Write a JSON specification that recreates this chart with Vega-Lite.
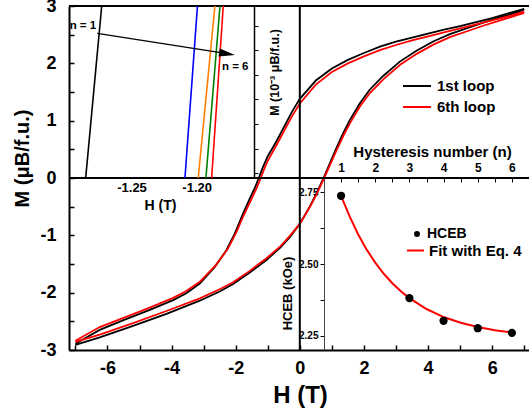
{
  "$schema": "https://vega.github.io/schema/vega-lite/v6.json",
  "width": 460,
  "height": 344,
  "autosize": {"type": "none"},
  "padding": {"left": 69, "top": 6, "right": 0, "bottom": 64},
  "background": "white",
  "config": {
    "view": {"stroke": null},
    "font": "Liberation Sans",
    "axis": {
      "grid": false,
      "tickCount": 100,
      "domainColor": "black",
      "tickColor": "black",
      "labelColor": "black",
      "titleColor": "black",
      "labelFont": "Liberation Sans",
      "titleFont": "Liberation Sans",
      "labelFontWeight": "bold",
      "titleFontWeight": "bold",
      "labelFlush": false,
      "labelOverlap": false,
      "labelBound": false
    },
    "legend": {
      "padding": 0,
      "labelFont": "Liberation Sans",
      "labelFontWeight": "bold",
      "labelColor": "black",
      "labelLimit": 300
    }
  },
  "datasets": {
    "loops": [
      {"loop": "1st loop", "branch": "down", "H": 7.0, "M": 2.95},
      {"loop": "1st loop", "branch": "down", "H": 6.5, "M": 2.87},
      {"loop": "1st loop", "branch": "down", "H": 6.0, "M": 2.79},
      {"loop": "1st loop", "branch": "down", "H": 5.5, "M": 2.72},
      {"loop": "1st loop", "branch": "down", "H": 5.0, "M": 2.65},
      {"loop": "1st loop", "branch": "down", "H": 4.5, "M": 2.59},
      {"loop": "1st loop", "branch": "down", "H": 4.0, "M": 2.52},
      {"loop": "1st loop", "branch": "down", "H": 3.5, "M": 2.45},
      {"loop": "1st loop", "branch": "down", "H": 3.0, "M": 2.38},
      {"loop": "1st loop", "branch": "down", "H": 2.5, "M": 2.29},
      {"loop": "1st loop", "branch": "down", "H": 2.0, "M": 2.18},
      {"loop": "1st loop", "branch": "down", "H": 1.5, "M": 2.06},
      {"loop": "1st loop", "branch": "down", "H": 1.0, "M": 1.91},
      {"loop": "1st loop", "branch": "down", "H": 0.5, "M": 1.70},
      {"loop": "1st loop", "branch": "down", "H": 0.0, "M": 1.38},
      {"loop": "1st loop", "branch": "down", "H": -0.25, "M": 1.15},
      {"loop": "1st loop", "branch": "down", "H": -0.5, "M": 0.88},
      {"loop": "1st loop", "branch": "down", "H": -0.75, "M": 0.62},
      {"loop": "1st loop", "branch": "down", "H": -1.0, "M": 0.38},
      {"loop": "1st loop", "branch": "down", "H": -1.15, "M": 0.19},
      {"loop": "1st loop", "branch": "down", "H": -1.28, "M": 0.0},
      {"loop": "1st loop", "branch": "down", "H": -1.4, "M": -0.17},
      {"loop": "1st loop", "branch": "down", "H": -1.58, "M": -0.38},
      {"loop": "1st loop", "branch": "down", "H": -1.8, "M": -0.66},
      {"loop": "1st loop", "branch": "down", "H": -2.03, "M": -0.97},
      {"loop": "1st loop", "branch": "down", "H": -2.29, "M": -1.26},
      {"loop": "1st loop", "branch": "down", "H": -2.65, "M": -1.55},
      {"loop": "1st loop", "branch": "down", "H": -3.12, "M": -1.84},
      {"loop": "1st loop", "branch": "down", "H": -3.54, "M": -2.01},
      {"loop": "1st loop", "branch": "down", "H": -3.95, "M": -2.13},
      {"loop": "1st loop", "branch": "down", "H": -4.68, "M": -2.30},
      {"loop": "1st loop", "branch": "down", "H": -5.5, "M": -2.48},
      {"loop": "1st loop", "branch": "down", "H": -6.24, "M": -2.65},
      {"loop": "1st loop", "branch": "down", "H": -7.0, "M": -2.89},
      {"loop": "1st loop", "branch": "up", "H": -7.0, "M": -2.91},
      {"loop": "1st loop", "branch": "up", "H": -6.24, "M": -2.78},
      {"loop": "1st loop", "branch": "up", "H": -5.2, "M": -2.58},
      {"loop": "1st loop", "branch": "up", "H": -4.16, "M": -2.37},
      {"loop": "1st loop", "branch": "up", "H": -3.12, "M": -2.14},
      {"loop": "1st loop", "branch": "up", "H": -2.5, "M": -1.98},
      {"loop": "1st loop", "branch": "up", "H": -2.08, "M": -1.85},
      {"loop": "1st loop", "branch": "up", "H": -1.56, "M": -1.65},
      {"loop": "1st loop", "branch": "up", "H": -1.04, "M": -1.43},
      {"loop": "1st loop", "branch": "up", "H": -0.6, "M": -1.21},
      {"loop": "1st loop", "branch": "up", "H": -0.31, "M": -1.03},
      {"loop": "1st loop", "branch": "up", "H": 0.0, "M": -0.80},
      {"loop": "1st loop", "branch": "up", "H": 0.31, "M": -0.50},
      {"loop": "1st loop", "branch": "up", "H": 0.52, "M": -0.27},
      {"loop": "1st loop", "branch": "up", "H": 0.74, "M": 0.0},
      {"loop": "1st loop", "branch": "up", "H": 0.94, "M": 0.26},
      {"loop": "1st loop", "branch": "up", "H": 1.14, "M": 0.52},
      {"loop": "1st loop", "branch": "up", "H": 1.35, "M": 0.78},
      {"loop": "1st loop", "branch": "up", "H": 1.56, "M": 1.01},
      {"loop": "1st loop", "branch": "up", "H": 1.87, "M": 1.30},
      {"loop": "1st loop", "branch": "up", "H": 2.18, "M": 1.54},
      {"loop": "1st loop", "branch": "up", "H": 2.6, "M": 1.78},
      {"loop": "1st loop", "branch": "up", "H": 3.12, "M": 2.03},
      {"loop": "1st loop", "branch": "up", "H": 3.64, "M": 2.22},
      {"loop": "1st loop", "branch": "up", "H": 4.16, "M": 2.38},
      {"loop": "1st loop", "branch": "up", "H": 4.68, "M": 2.51},
      {"loop": "1st loop", "branch": "up", "H": 5.2, "M": 2.61},
      {"loop": "1st loop", "branch": "up", "H": 5.72, "M": 2.71},
      {"loop": "1st loop", "branch": "up", "H": 6.24, "M": 2.80},
      {"loop": "1st loop", "branch": "up", "H": 6.76, "M": 2.89},
      {"loop": "1st loop", "branch": "up", "H": 7.0, "M": 2.94},
      {"loop": "6th loop", "branch": "down", "H": 7.0, "M": 2.90},
      {"loop": "6th loop", "branch": "down", "H": 6.5, "M": 2.82},
      {"loop": "6th loop", "branch": "down", "H": 6.0, "M": 2.75},
      {"loop": "6th loop", "branch": "down", "H": 5.5, "M": 2.68},
      {"loop": "6th loop", "branch": "down", "H": 5.0, "M": 2.61},
      {"loop": "6th loop", "branch": "down", "H": 4.5, "M": 2.54},
      {"loop": "6th loop", "branch": "down", "H": 4.0, "M": 2.47},
      {"loop": "6th loop", "branch": "down", "H": 3.5, "M": 2.40},
      {"loop": "6th loop", "branch": "down", "H": 3.0, "M": 2.32},
      {"loop": "6th loop", "branch": "down", "H": 2.5, "M": 2.23},
      {"loop": "6th loop", "branch": "down", "H": 2.0, "M": 2.12},
      {"loop": "6th loop", "branch": "down", "H": 1.5, "M": 2.00},
      {"loop": "6th loop", "branch": "down", "H": 1.0, "M": 1.85},
      {"loop": "6th loop", "branch": "down", "H": 0.5, "M": 1.63},
      {"loop": "6th loop", "branch": "down", "H": 0.0, "M": 1.30},
      {"loop": "6th loop", "branch": "down", "H": -0.25, "M": 1.07},
      {"loop": "6th loop", "branch": "down", "H": -0.5, "M": 0.81},
      {"loop": "6th loop", "branch": "down", "H": -0.75, "M": 0.55},
      {"loop": "6th loop", "branch": "down", "H": -1.0, "M": 0.30},
      {"loop": "6th loop", "branch": "down", "H": -1.1, "M": 0.17},
      {"loop": "6th loop", "branch": "down", "H": -1.22, "M": 0.0},
      {"loop": "6th loop", "branch": "down", "H": -1.35, "M": -0.18},
      {"loop": "6th loop", "branch": "down", "H": -1.52, "M": -0.38},
      {"loop": "6th loop", "branch": "down", "H": -1.75, "M": -0.65},
      {"loop": "6th loop", "branch": "down", "H": -1.98, "M": -0.95},
      {"loop": "6th loop", "branch": "down", "H": -2.25, "M": -1.24},
      {"loop": "6th loop", "branch": "down", "H": -2.62, "M": -1.52},
      {"loop": "6th loop", "branch": "down", "H": -3.1, "M": -1.80},
      {"loop": "6th loop", "branch": "down", "H": -3.54, "M": -1.97},
      {"loop": "6th loop", "branch": "down", "H": -3.95, "M": -2.09},
      {"loop": "6th loop", "branch": "down", "H": -4.68, "M": -2.26},
      {"loop": "6th loop", "branch": "down", "H": -5.5, "M": -2.44},
      {"loop": "6th loop", "branch": "down", "H": -6.24, "M": -2.60},
      {"loop": "6th loop", "branch": "down", "H": -7.0, "M": -2.84},
      {"loop": "6th loop", "branch": "up", "H": -7.0, "M": -2.86},
      {"loop": "6th loop", "branch": "up", "H": -6.24, "M": -2.73},
      {"loop": "6th loop", "branch": "up", "H": -5.2, "M": -2.53},
      {"loop": "6th loop", "branch": "up", "H": -4.16, "M": -2.32},
      {"loop": "6th loop", "branch": "up", "H": -3.12, "M": -2.10},
      {"loop": "6th loop", "branch": "up", "H": -2.5, "M": -1.94},
      {"loop": "6th loop", "branch": "up", "H": -2.08, "M": -1.82},
      {"loop": "6th loop", "branch": "up", "H": -1.56, "M": -1.62},
      {"loop": "6th loop", "branch": "up", "H": -1.04, "M": -1.40},
      {"loop": "6th loop", "branch": "up", "H": -0.6, "M": -1.19},
      {"loop": "6th loop", "branch": "up", "H": -0.31, "M": -1.01},
      {"loop": "6th loop", "branch": "up", "H": 0.0, "M": -0.80},
      {"loop": "6th loop", "branch": "up", "H": 0.31, "M": -0.51},
      {"loop": "6th loop", "branch": "up", "H": 0.52, "M": -0.29},
      {"loop": "6th loop", "branch": "up", "H": 0.76, "M": 0.0},
      {"loop": "6th loop", "branch": "up", "H": 0.96, "M": 0.25},
      {"loop": "6th loop", "branch": "up", "H": 1.16, "M": 0.50},
      {"loop": "6th loop", "branch": "up", "H": 1.37, "M": 0.75},
      {"loop": "6th loop", "branch": "up", "H": 1.58, "M": 0.97},
      {"loop": "6th loop", "branch": "up", "H": 1.89, "M": 1.26},
      {"loop": "6th loop", "branch": "up", "H": 2.2, "M": 1.49},
      {"loop": "6th loop", "branch": "up", "H": 2.62, "M": 1.73},
      {"loop": "6th loop", "branch": "up", "H": 3.14, "M": 1.98},
      {"loop": "6th loop", "branch": "up", "H": 3.66, "M": 2.17},
      {"loop": "6th loop", "branch": "up", "H": 4.18, "M": 2.33},
      {"loop": "6th loop", "branch": "up", "H": 4.7, "M": 2.46},
      {"loop": "6th loop", "branch": "up", "H": 5.22, "M": 2.56},
      {"loop": "6th loop", "branch": "up", "H": 5.74, "M": 2.66},
      {"loop": "6th loop", "branch": "up", "H": 6.26, "M": 2.75},
      {"loop": "6th loop", "branch": "up", "H": 6.78, "M": 2.84},
      {"loop": "6th loop", "branch": "up", "H": 7.0, "M": 2.88}
    ],
    "vrefs": [{"H": 0}],
    "hrefs": [{"M": 0}, {"M": 3}],
    "inset": [
      {"n": "1", "H": -1.2852, "M": 0},
      {"n": "1", "H": -1.2729, "M": 3.5},
      {"n": "2", "H": -1.2090, "M": 0},
      {"n": "2", "H": -1.1994, "M": 3.5},
      {"n": "3", "H": -1.1988, "M": 0},
      {"n": "3", "H": -1.1860, "M": 3.5},
      {"n": "4", "H": -1.1929, "M": 0},
      {"n": "4", "H": -1.1821, "M": 3.5},
      {"n": "6", "H": -1.1885, "M": 0},
      {"n": "6", "H": -1.1796, "M": 3.5}
    ],
    "notes": [
      {"label": "n = 1", "H": -1.2975, "M": 3.09},
      {"label": "n = 6", "H": -1.1806, "M": 2.25}
    ],
    "arrow": [
      {"H": -1.2763, "M": 2.945, "H2": -1.1767, "M2": 2.529}
    ],
    "fit": [
      {"series": "Fit with Eq. 4", "n": 1.0, "H_CEB": 2.738},
      {"series": "Fit with Eq. 4", "n": 1.25, "H_CEB": 2.666},
      {"series": "Fit with Eq. 4", "n": 1.5, "H_CEB": 2.603},
      {"series": "Fit with Eq. 4", "n": 1.75, "H_CEB": 2.550},
      {"series": "Fit with Eq. 4", "n": 2.0, "H_CEB": 2.505},
      {"series": "Fit with Eq. 4", "n": 2.25, "H_CEB": 2.466},
      {"series": "Fit with Eq. 4", "n": 2.5, "H_CEB": 2.433},
      {"series": "Fit with Eq. 4", "n": 2.75, "H_CEB": 2.405},
      {"series": "Fit with Eq. 4", "n": 3.0, "H_CEB": 2.381},
      {"series": "Fit with Eq. 4", "n": 3.5, "H_CEB": 2.343},
      {"series": "Fit with Eq. 4", "n": 4.0, "H_CEB": 2.315},
      {"series": "Fit with Eq. 4", "n": 4.5, "H_CEB": 2.295},
      {"series": "Fit with Eq. 4", "n": 5.0, "H_CEB": 2.280},
      {"series": "Fit with Eq. 4", "n": 5.5, "H_CEB": 2.269},
      {"series": "Fit with Eq. 4", "n": 6.0, "H_CEB": 2.261}
    ],
    "points": [
      {"series": "HCEB", "n": 1, "H_CEB": 2.738},
      {"series": "HCEB", "n": 3, "H_CEB": 2.381},
      {"series": "HCEB", "n": 4, "H_CEB": 2.302},
      {"series": "HCEB", "n": 5, "H_CEB": 2.276},
      {"series": "HCEB", "n": 6, "H_CEB": 2.260}
    ]
  },
  "layer": [
    {
      "layer": [
        {
          "data": {"name": "loops"},
          "mark": {"type": "line", "strokeWidth": 1.8},
          "encoding": {
            "x": {
              "field": "H", "type": "quantitative", "title": "H (T)",
              "scale": {"domain": [-7.2, 7.15], "nice": false, "zero": false},
              "axis": {
                "orient": "bottom", "tickCount": 100,
                "values": [-7, -6, -5, -4, -3, -2, -1, 0, 1, 2, 3, 4, 5, 6, 7],
                "labelExpr": "floor(datum.value / 2) * 2 == datum.value ? replace(format(datum.value, 'd'), '−', '-') : ''",
                "tickSize": -5, "tickWidth": 1.5, "domainWidth": 2,
                "labelPadding": 14, "labelFontSize": 18,
                "title": "H (T)", "titleFontSize": 24,
                "titleX": 231, "titleY": 45, "titleBaseline": "middle", "titleAlign": "center"
              }
            },
            "y": {
              "field": "M", "type": "quantitative", "title": "M (μB/f.u.)",
              "scale": {"domain": [-3, 3], "nice": false, "zero": false},
              "axis": {
                "orient": "left", "tickCount": 100,
                "values": [-3, -2.5, -2, -1.5, -1, -0.5, 0, 0.5, 1, 1.5, 2, 2.5, 3],
                "labelExpr": "floor(datum.value) == datum.value ? replace(format(datum.value, 'd'), '−', '-') : ''",
                "tickSize": -5, "tickWidth": 1.5, "domainWidth": 2,
                "labelPadding": 18, "labelFontSize": 18,
                "title": "M (μB/f.u.)", "titleFontSize": 20,
                "titleX": -47, "titleY": 152, "titleAngle": 270,
                "titleBaseline": "middle", "titleAlign": "center"
              }
            },
            "color": {
              "field": "loop", "type": "nominal",
              "scale": {"domain": ["1st loop", "6th loop"], "range": ["#000000", "#ff0000"]},
              "legend": {
                "orient": "none", "legendX": 340, "legendY": 72, "title": null,
                "symbolType": "M-2,0L2,0", "symbolSize": 196, "symbolStrokeWidth": 2,
                "labelFontSize": 15, "labelOffset": 12, "rowPadding": 5
              }
            },
            "detail": {"field": "branch"}
          }
        },
        {
          "data": {"name": "vrefs"},
          "mark": {"type": "rule", "strokeWidth": 2, "color": "black"},
          "encoding": {"x": {"field": "H", "type": "quantitative", "title": "H (T)"}}
        },
        {
          "data": {"name": "hrefs"},
          "mark": {"type": "rule", "strokeWidth": 2, "color": "black"},
          "encoding": {"y": {"field": "M", "type": "quantitative", "title": "M (μB/f.u.)"}}
        }
      ]
    },
    {
      "layer": [
        {
          "data": {"name": "inset"},
          "mark": {"type": "line", "strokeWidth": 1.6},
          "encoding": {
            "x": {
              "field": "H", "type": "quantitative", "title": "H (T)",
              "scale": {"domain": [-1.298, -1.156], "range": [0, 185], "nice": false, "zero": false},
              "axis": {
                "orient": "bottom", "offset": -172, "domain": false, "ticks": false, "tickCount": 100,
                "values": [-1.25, -1.2],
                "labelExpr": "replace(format(datum.value, '.2f'), '−', '-')",
                "labelPadding": 3, "labelFontSize": 13,
                "title": "H (T)", "titleFontSize": 14,
                "titleX": 91, "titleY": 27, "titleBaseline": "middle", "titleAlign": "center"
              }
            },
            "y": {
              "field": "M", "type": "quantitative", "title": "M (10⁻³ μB/f.u.)",
              "scale": {"domain": [0, 3.5], "range": [172, 0], "nice": false, "zero": false},
              "axis": {
                "orient": "right", "offset": -275, "labels": false, "tickCount": 100,
                "values": [0.1, 0.6, 1.1, 1.6, 2.1, 2.6, 3.1],
                "tickSize": 4, "tickWidth": 1, "domainWidth": 1.5,
                "title": "M (10⁻³ μB/f.u.)", "titleFontSize": 12.5,
                "titleX": 20, "titleY": 66, "titleAngle": 270,
                "titleBaseline": "middle", "titleAlign": "center"
              }
            },
            "color": {
              "field": "n", "type": "nominal",
              "scale": {"domain": ["1", "2", "3", "4", "6"], "range": ["#000000", "#0000ff", "#ff8000", "#008000", "#ff0000"]},
              "legend": null
            }
          }
        },
        {
          "data": {"name": "notes"},
          "mark": {"type": "text", "fontSize": 11.5, "fontWeight": "bold", "align": "left", "baseline": "middle", "color": "black"},
          "encoding": {
            "x": {"field": "H", "type": "quantitative", "title": "H (T)"},
            "y": {"field": "M", "type": "quantitative", "title": "M (10⁻³ μB/f.u.)"},
            "text": {"field": "label"}
          }
        },
        {
          "data": {"name": "arrow"},
          "mark": {"type": "rule", "strokeWidth": 1.3, "color": "black"},
          "encoding": {
            "x": {"field": "H", "type": "quantitative", "title": "H (T)"},
            "y": {"field": "M", "type": "quantitative", "title": "M (10⁻³ μB/f.u.)"},
            "x2": {"field": "H2"},
            "y2": {"field": "M2"}
          }
        },
        {
          "data": {"name": "arrow"},
          "mark": {"type": "point", "shape": "M-1,-0.5L1,0L-1,0.5Z", "filled": true, "color": "black", "opacity": 1, "size": 256, "angle": 9},
          "encoding": {
            "x": {"field": "H2", "type": "quantitative", "title": "H (T)"},
            "y": {"field": "M2", "type": "quantitative", "title": "M (10⁻³ μB/f.u.)"}
          }
        }
      ]
    },
    {
      "layer": [
        {
          "data": {"name": "fit"},
          "mark": {"type": "line", "strokeWidth": 2},
          "encoding": {
            "x": {
              "field": "n", "type": "quantitative", "title": "Hysteresis number (n)",
              "scale": {"domain": [0.5, 6.5], "range": [255, 460], "nice": false, "zero": false},
              "axis": {
                "orient": "top", "offset": -172, "domain": false, "tickCount": 100,
                "values": [1, 1.5, 2, 2.5, 3, 3.5, 4, 4.5, 5, 5.5, 6],
                "labelExpr": "datum.value == floor(datum.value) ? format(datum.value, 'd') : ''",
                "tickSize": -4, "tickWidth": 1, "labelPadding": 8, "labelFontSize": 12,
                "title": "Hysteresis number (n)", "titleFontSize": 15,
                "titleX": 363, "titleY": -27, "titleBaseline": "middle", "titleAlign": "center"
              }
            },
            "y": {
              "field": "H_CEB", "type": "quantitative", "title": "HCEB (kOe)",
              "scale": {"domain": [2.2, 2.8], "range": [344, 172], "nice": false, "zero": false},
              "axis": {
                "orient": "left", "offset": -255, "tickCount": 100,
                "values": [2.25, 2.375, 2.5, 2.625, 2.75],
                "labelExpr": "(datum.value * 4) % 1 == 0 ? format(datum.value, '.2f') : ''",
                "tickSize": 4, "tickWidth": 1, "domainWidth": 1, "domainColor": "#444444",
                "labelPadding": 2, "labelFontSize": 10,
                "title": "HCEB (kOe)", "titleFontSize": 13,
                "titleX": -37, "titleY": 287, "titleAngle": 270,
                "titleBaseline": "middle", "titleAlign": "center"
              }
            },
            "color": {
              "field": "series", "type": "nominal",
              "scale": {"domain": ["Fit with Eq. 4"], "range": ["#ff0000"]},
              "legend": {
                "orient": "none", "legendX": 337, "legendY": 235, "title": null,
                "symbolType": "stroke", "symbolSize": 289, "symbolStrokeWidth": 2,
                "labelFontSize": 15, "labelOffset": 4
              }
            }
          }
        },
        {
          "data": {"name": "points"},
          "mark": {"type": "point", "filled": true, "color": "black", "opacity": 1, "size": 68},
          "encoding": {
            "x": {"field": "n", "type": "quantitative", "title": "Hysteresis number (n)"},
            "y": {"field": "H_CEB", "type": "quantitative", "title": "HCEB (kOe)"},
            "shape": {
              "field": "series", "type": "nominal",
              "scale": {"domain": ["HCEB"], "range": ["circle"]},
              "legend": {
                "orient": "none", "legendX": 341, "legendY": 221, "title": null,
                "symbolSize": 35, "symbolFillColor": "black", "symbolStrokeColor": "black",
                "labelFontSize": 14, "labelOffset": 3
              }
            }
          }
        }
      ]
    }
  ],
  "resolve": {
    "scale": {"x": "independent", "y": "independent", "color": "independent", "shape": "independent"},
    "axis": {"x": "independent", "y": "independent"},
    "legend": {"color": "independent", "shape": "independent"}
  }
}
